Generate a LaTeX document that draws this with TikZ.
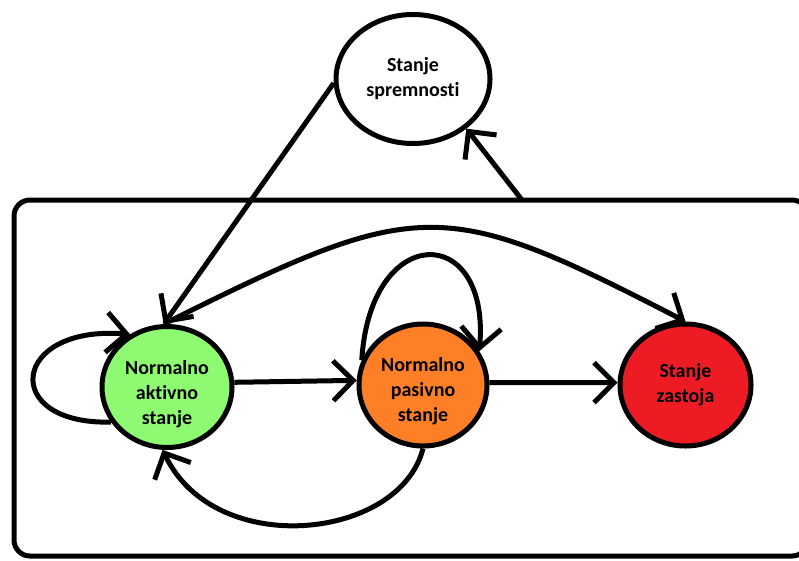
\documentclass[tikz,border=0pt]{standalone}
\usepackage{fontspec}
\setmainfont{Carlito}[Ligatures=NoCommon]
\usetikzlibrary{arrows.meta,shapes.geometric}
\definecolor{ngreen}{RGB}{141,250,114}
\definecolor{norange}{RGB}{255,127,39}
\definecolor{nred}{RGB}{237,28,36}
\begin{document}
\begin{tikzpicture}[x=1pt,y=-1pt,line width=5pt,
  st/.style={ellipse,draw,line width=5pt,inner sep=0pt,align=center,
    font=\bfseries\fontsize{20}{25}\selectfont},
  tip/.tip={Straight Barb[length=20pt,width=40pt]},
  arr/.style={-tip}]
\useasboundingbox (0,0) rectangle (799,560);
% frame
\draw[rounded corners=16pt] (14,200) rectangle (808,556);
\coordinate (bt) at (522,200);
% states
\node[st,fill=white,minimum width=154pt,minimum height=129pt] (spr) at (413,79) {Stanje\\spremnosti};
\node[st,fill=ngreen,minimum width=130pt,minimum height=121pt] (na) at (167,387) {\rule{0pt}{29pt}Normalno\\aktivno\\stanje};
\node[st,fill=norange,minimum width=128pt,minimum height=122pt] (np) at (423,385) {\rule{0pt}{26pt}Normalno\\pasivno\\stanje};
\node[st,fill=nred,minimum width=131pt,minimum height=122pt] (nz) at (685.5,385) {Stanje\\zastoja};
% connectors
\draw[arr] (spr.183) -- (na.93);
\draw[arr] (bt) -- (spr.317);
\draw[arr] (na.93) .. controls (420,196) and (442,196) .. (nz.90);
\draw[arr] (na.212) .. controls (0,425) and (10,325) .. (na.125);
\draw[arr] (na.4) -- (np.176);
\draw[arr] (np.158) .. controls (370,222) and (490,222) .. (np.31);
\draw[arr] (np.2) -- (nz.178);
\draw[arr] (np.270) .. controls (400,540) and (215,560) .. (na.266);
\end{tikzpicture}
\end{document}
